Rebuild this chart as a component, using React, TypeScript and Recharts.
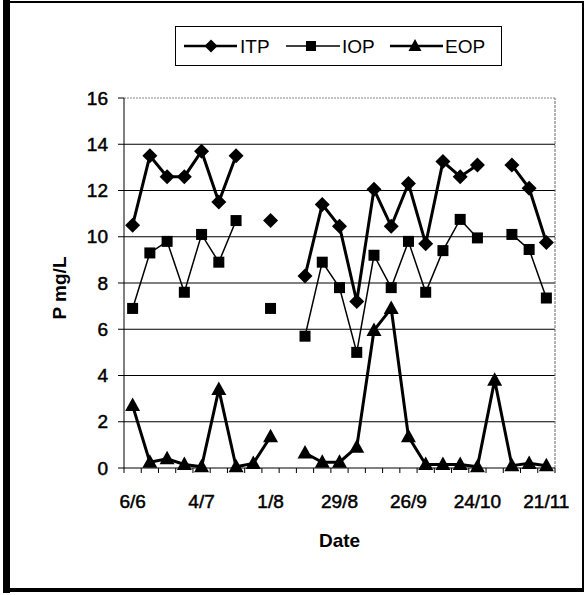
import { LineChart, Line, XAxis, YAxis, CartesianGrid, ReferenceLine } from 'recharts';

const FONT = '"Liberation Sans", Arial, sans-serif';

// weekly sampling dates
const DATES = [
  '6/6', '13/6', '20/6', '27/6', '4/7', '11/7', '18/7', '25/7', '1/8', '8/8', '15/8', '22/8', '29/8',
  '5/9', '12/9', '19/9', '26/9', '3/10', '10/10', '17/10', '24/10', '31/10', '7/11', '14/11', '21/11',
];
const ITP = [10.5, 13.5, 12.6, 12.6, 13.7, 11.5, 13.5, null, 10.7, null, 8.3, 11.4, 10.45, 7.2, 12.05, 10.45, 12.3, 9.7, 13.25, 12.6, 13.1, null, 13.1, 12.1, 9.75];
const IOP = [6.9, 9.3, 9.8, 7.6, 10.1, 8.9, 10.7, null, 6.9, null, 5.7, 8.9, 7.8, 5.0, 9.2, 7.8, 9.8, 7.6, 9.4, 10.75, 9.95, null, 10.1, 9.45, 7.35];
const EOP = [2.7, 0.25, 0.4, 0.15, 0.05, 3.4, 0.05, 0.2, 1.35, null, 0.65, 0.25, 0.25, 0.9, 5.95, 6.9, 1.35, 0.15, 0.15, 0.15, 0.05, 3.8, 0.1, 0.2, 0.1];
const Y_TICKS = [0, 2, 4, 6, 8, 10, 12, 14, 16];
const GRID_VALUES = [2, 4, 6, 8, 10, 12, 14];
const LABEL_EVERY = 4;

const data = DATES.map((d, i) => ({ x: i, date: d, itp: ITP[i], iop: IOP[i], eop: EOP[i] }));
// ticks between categories + category centres (centres carry the labels)
const xTicks: number[] = [];
for (let i = 0; i <= DATES.length * 2; i++) xTicks.push(-0.5 + i * 0.5);

const diamond = (props: any) => {
  const { cx, cy, index } = props;
  if (cx == null || cy == null || props.value == null) return <g key={index} />;
  return <path key={index} d={`M${cx},${cy - 7.5}L${cx + 7.5},${cy}L${cx},${cy + 7.5}L${cx - 7.5},${cy}Z`} fill="#000" />;
};
const square = (props: any) => {
  const { cx, cy, index } = props;
  if (cx == null || cy == null || props.value == null) return <g key={index} />;
  return <rect key={index} x={cx - 5.5} y={cy - 5.5} width={11} height={11} fill="#000" />;
};
const triangle = (props: any) => {
  const { cx, cy, index } = props;
  if (cx == null || cy == null || props.value == null) return <g key={index} />;
  return <path key={index} d={`M${cx},${cy - 8}L${cx + 7.5},${cy + 5.5}L${cx - 7.5},${cy + 5.5}Z`} fill="#000" />;
};

const XTick = (props: any) => {
  const { x, y, payload } = props;
  const v = payload.value;
  if (!Number.isInteger(v)) {
    return <line x1={x} x2={x} y1={y} y2={y + 5} stroke="#000" strokeWidth={1} />;
  }
  if (v % LABEL_EVERY !== 0) return <g />;
  return (
    <text x={x} y={y + 40} textAnchor="middle" fontSize={19} fontFamily={FONT} fill="#000" stroke="#000" strokeWidth={0.5}>
      {DATES[v]}
    </text>
  );
};

function LegendBox() {
  return (
    <div style={{ position: 'absolute', left: 175, top: 26, width: 325, height: 38, border: '1px solid #000', background: '#fff' }}>
      <svg width={325} height={38}>
        <g fontFamily={FONT} fontSize={19} fill="#000">
          <line x1={8} x2={61} y1={19} y2={19} stroke="#000" strokeWidth={2.5} />
          <path d="M35,12.5L41.5,19L35,25.5L28.5,19Z" fill="#000" />
          <text x={64} y={26}>ITP</text>
          <line x1={110} x2={164} y1={19} y2={19} stroke="#000" strokeWidth={1.5} />
          <rect x={130} y={14} width={10} height={10} fill="#000" />
          <text x={166} y={26}>IOP</text>
          <line x1={214} x2={267} y1={19} y2={19} stroke="#000" strokeWidth={2.5} />
          <path d="M239,12L245.5,24L232.5,24Z" fill="#000" />
          <text x={269} y={26}>EOP</text>
        </g>
      </svg>
    </div>
  );
}

export default function App() {
  return (
    <div style={{ position: 'absolute', left: 0, top: 0, width: 587, height: 595, background: '#fff', fontFamily: FONT }}>
      <LineChart width={587} height={595} data={data} margin={{ top: 98, right: 32, bottom: 97, left: 0 }}>
        <CartesianGrid vertical={false} horizontalValues={GRID_VALUES} stroke="#000" strokeWidth={1} />
        <ReferenceLine y={16} stroke="#888" strokeWidth={1} strokeDasharray="2 1" />
        <ReferenceLine x={24.5} stroke="#666" strokeWidth={1} strokeDasharray="3 1" />
        <XAxis
          type="number"
          dataKey="x"
          domain={[-0.5, 24.5]}
          ticks={xTicks}
          interval={0}
          height={30}
          tickLine={false}
          tickSize={0}
          tickMargin={0}
          axisLine={{ stroke: '#000', strokeWidth: 1 }}
          tick={<XTick />}
          label={{
            content: (p: any) => {
              const vb = p.viewBox;
              return (
                <text x={vb.x + vb.width / 2} y={vb.y + 79} textAnchor="middle" fontSize={19} fontWeight="bold" fontFamily={FONT} fill="#000">
                  Date
                </text>
              );
            },
          }}
        />
        <YAxis
          domain={[0, 16]}
          ticks={Y_TICKS}
          interval={0}
          width={124}
          tickSize={6}
          tickMargin={10}
          tick={{ fontSize: 19, fill: '#000', fontFamily: FONT, stroke: '#000', strokeWidth: 0.5 }}
          tickLine={{ stroke: '#000' }}
          axisLine={{ stroke: '#000', strokeWidth: 1 }}
          label={{
            content: (p: any) => {
              const vb = p.viewBox;
              const cy = vb.y + vb.height / 2 + 5;
              return (
                <text x={66} y={cy} transform={`rotate(-90, 66, ${cy})`} textAnchor="middle" fontSize={19} fontWeight="bold" fontFamily={FONT} fill="#000">
                  P mg/L
                </text>
              );
            },
          }}
        />
        <Line dataKey="itp" stroke="#000" strokeWidth={3} dot={diamond} activeDot={false} isAnimationActive={false} connectNulls={false} />
        <Line dataKey="iop" stroke="#000" strokeWidth={1.5} dot={square} activeDot={false} isAnimationActive={false} connectNulls={false} />
        <Line dataKey="eop" stroke="#000" strokeWidth={3} dot={triangle} activeDot={false} isAnimationActive={false} connectNulls={false} />
      </LineChart>
      <LegendBox />
      {/* outer frame */}
      <div style={{ position: 'absolute', left: 3, top: 0, width: 7, height: 593, background: '#000' }} />
      <div style={{ position: 'absolute', left: 3, top: 1, width: 580, height: 2, background: '#000' }} />
      <div style={{ position: 'absolute', left: 582, top: 1, width: 2, height: 590, background: '#000' }} />
      <div style={{ position: 'absolute', left: 3, top: 588, width: 581, height: 4, background: '#000' }} />
    </div>
  );
}
